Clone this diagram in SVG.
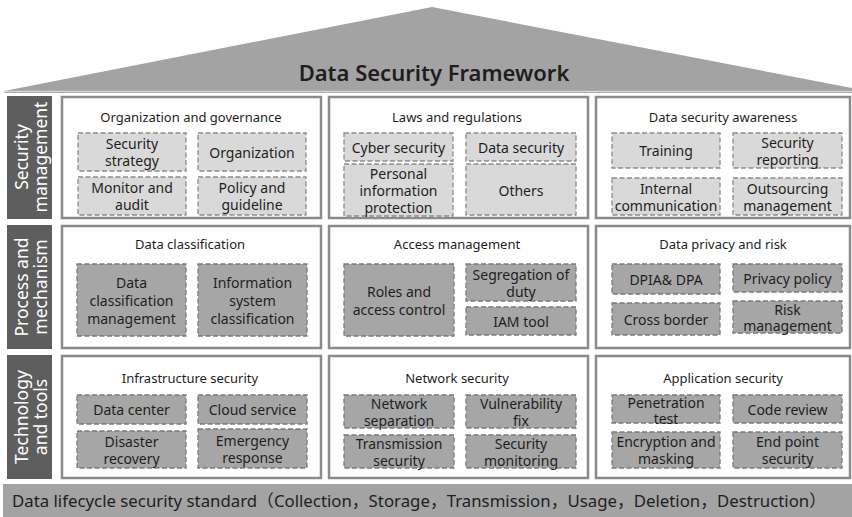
<svg xmlns="http://www.w3.org/2000/svg" width="852" height="517" viewBox="0 0 852 517">
<style>
text{font-family:"Noto Sans","Noto Sans CJK SC",sans-serif;fill:#1e1e1e;text-anchor:middle;dominant-baseline:central}
.side rect{fill:#5e5e5e}
.side text{fill:#ffffff;font-size:17.5px}
.panel{fill:#ffffff;stroke:#8a8a8a;stroke-width:2.5}
.ttl{font-size:13px}
.b1 rect{fill:#d9d9d9;stroke:#8c8c8c;stroke-width:1.3;stroke-dasharray:5 2.5}
.b2 rect{fill:#a6a6a6;stroke:#7a7a7a;stroke-width:1.3;stroke-dasharray:5 2.5}
.b1 text,.b2 text{font-size:14px}
</style>
<rect width="852" height="517" fill="#ffffff"/>
<g id="roof">
<polygon points="432,7 852,88 852,93 4,93 4,91" fill="#a3a3a3"/>
<line x1="4" y1="91.5" x2="852" y2="91.5" stroke="#d4d4d4" stroke-width="1.5"/>
<text x="434" y="72" font-size="22" font-weight="600" fill="#222">Data Security Framework</text>
</g>
<g id="label-security-management" class="side">
<rect x="7" y="96" width="45" height="123"/>
<text transform="translate(20.5,157) rotate(-90)">Security</text>
<text transform="translate(39.5,157) rotate(-90)">management</text>
</g>
<g id="label-process-mechanism" class="side">
<rect x="7" y="225" width="45" height="124"/>
<text transform="translate(20.5,287) rotate(-90)">Process and</text>
<text transform="translate(39.5,287) rotate(-90)">mechanism</text>
</g>
<g id="label-technology-tools" class="side">
<rect x="7" y="355" width="45" height="124"/>
<text transform="translate(20.5,417) rotate(-90)">Technology</text>
<text transform="translate(39.5,417) rotate(-90)">and tools</text>
</g>

<g id="org-governance">
<rect class="panel" x="62" y="97" width="259" height="121"/>
<text class="ttl" x="191" y="117">Organization and governance</text>
<g class="b1">
<rect x="78" y="133" width="108" height="38"/><text x="132" y="143.5">Security</text><text x="132" y="160.5">strategy</text>
<rect x="198" y="133" width="108" height="38"/><text x="252" y="152">Organization</text>
<rect x="78" y="177" width="108" height="38"/><text x="132" y="187.5">Monitor and</text><text x="132" y="204.5">audit</text>
<rect x="198" y="177" width="108" height="38"/><text x="252" y="187.5">Policy and</text><text x="252" y="204.5">guideline</text>
</g>
</g>
<g id="laws-regulations">
<rect class="panel" x="329" y="97" width="259" height="121"/>
<text class="ttl" x="457" y="117">Laws and regulations</text>
<g class="b1">
<rect x="344" y="133" width="109" height="28"/><text x="398.5" y="147">Cyber security</text>
<rect x="466" y="133" width="110" height="28"/><text x="521" y="147">Data security</text>
<rect x="344" y="164" width="109" height="52"/><text x="398.5" y="173">Personal</text><text x="398.5" y="190">information</text><text x="398.5" y="207">protection</text>
<rect x="466" y="164" width="110" height="51"/><text x="521" y="190">Others</text>
</g>
</g>
<g id="awareness">
<rect class="panel" x="596" y="97" width="254" height="121"/>
<text class="ttl" x="723" y="117">Data security awareness</text>
<g class="b1">
<rect x="612" y="133" width="108" height="35"/><text x="666" y="150.5">Training</text>
<rect x="733" y="133" width="109" height="35"/><text x="787.5" y="142">Security</text><text x="787.5" y="159">reporting</text>
<rect x="612" y="178" width="108" height="37"/><text x="666" y="188">Internal</text><text x="666" y="205">communication</text>
<rect x="733" y="178" width="109" height="37"/><text x="787.5" y="188">Outsourcing</text><text x="787.5" y="205">management</text>
</g>
</g>

<g id="data-classification">
<rect class="panel" x="62" y="226" width="259" height="122"/>
<text class="ttl" x="190" y="244">Data classification</text>
<g class="b2">
<rect x="77" y="264" width="109" height="72"/><text x="131.5" y="282">Data</text><text x="131.5" y="300">classification</text><text x="131.5" y="318">management</text>
<rect x="198" y="264" width="109" height="72"/><text x="252.5" y="282">Information</text><text x="252.5" y="300">system</text><text x="252.5" y="318">classification</text>
</g>
</g>
<g id="access-management">
<rect class="panel" x="329" y="226" width="259" height="122"/>
<text class="ttl" x="457" y="244">Access management</text>
<g class="b2">
<rect x="344" y="264" width="110" height="72"/><text x="399" y="291">Roles and</text><text x="399" y="309">access control</text>
<rect x="466" y="264" width="110" height="37"/><text x="521" y="274">Segregation of</text><text x="521" y="291">duty</text>
<rect x="466" y="307" width="110" height="28"/><text x="521" y="321">IAM tool</text>
</g>
</g>
<g id="privacy-risk">
<rect class="panel" x="596" y="226" width="254" height="122"/>
<text class="ttl" x="723" y="244">Data privacy and risk</text>
<g class="b2">
<rect x="612" y="264" width="108" height="30"/><text x="666" y="279">DPIA&amp; DPA</text>
<rect x="733" y="264" width="109" height="28"/><text x="787.5" y="278">Privacy policy</text>
<rect x="612" y="303" width="108" height="32"/><text x="666" y="319">Cross border</text>
<rect x="733" y="301" width="109" height="32"/><text x="787.5" y="309">Risk</text><text x="787.5" y="325">management</text>
</g>
</g>

<g id="infrastructure-security">
<rect class="panel" x="62" y="356" width="259" height="122"/>
<text class="ttl" x="190" y="378">Infrastructure security</text>
<g class="b2">
<rect x="77" y="395" width="109" height="29"/><text x="131.5" y="409.5">Data center</text>
<rect x="198" y="395" width="109" height="29"/><text x="252.5" y="409.5">Cloud service</text>
<rect x="77" y="431" width="109" height="37"/><text x="131.5" y="441">Disaster</text><text x="131.5" y="458">recovery</text>
<rect x="198" y="429" width="109" height="39"/><text x="252.5" y="440">Emergency</text><text x="252.5" y="457">response</text>
</g>
</g>
<g id="network-security">
<rect class="panel" x="329" y="356" width="259" height="122"/>
<text class="ttl" x="457" y="378">Network security</text>
<g class="b2">
<rect x="344" y="395" width="110" height="33"/><text x="399" y="403">Network</text><text x="399" y="420">separation</text>
<rect x="466" y="395" width="110" height="33"/><text x="521" y="403">Vulnerability</text><text x="521" y="420">fix</text>
<rect x="344" y="435" width="110" height="33"/><text x="399" y="443">Transmission</text><text x="399" y="460">security</text>
<rect x="466" y="435" width="110" height="33"/><text x="521" y="443">Security</text><text x="521" y="460">monitoring</text>
</g>
</g>
<g id="application-security">
<rect class="panel" x="596" y="356" width="254" height="122"/>
<text class="ttl" x="723" y="378">Application security</text>
<g class="b2">
<rect x="612" y="395" width="108" height="28"/><text x="666" y="402">Penetration</text><text x="666" y="418">test</text>
<rect x="733" y="395" width="109" height="28"/><text x="787.5" y="409">Code review</text>
<rect x="612" y="432" width="108" height="36"/><text x="666" y="441.5">Encryption and</text><text x="666" y="458.5">masking</text>
<rect x="733" y="432" width="109" height="36"/><text x="787.5" y="441.5">End point</text><text x="787.5" y="458.5">security</text>
</g>
</g>

<g id="lifecycle-standard">
<rect x="3" y="484" width="849" height="33" fill="#a3a3a3"/>
<text x="12" y="500" font-size="16.5" style="text-anchor:start" textLength="814" lengthAdjust="spacingAndGlyphs">Data lifecycle security standard（Collection，Storage，Transmission，Usage，Deletion，Destruction）</text>
</g>
<g id="connectors"/>
</svg>
